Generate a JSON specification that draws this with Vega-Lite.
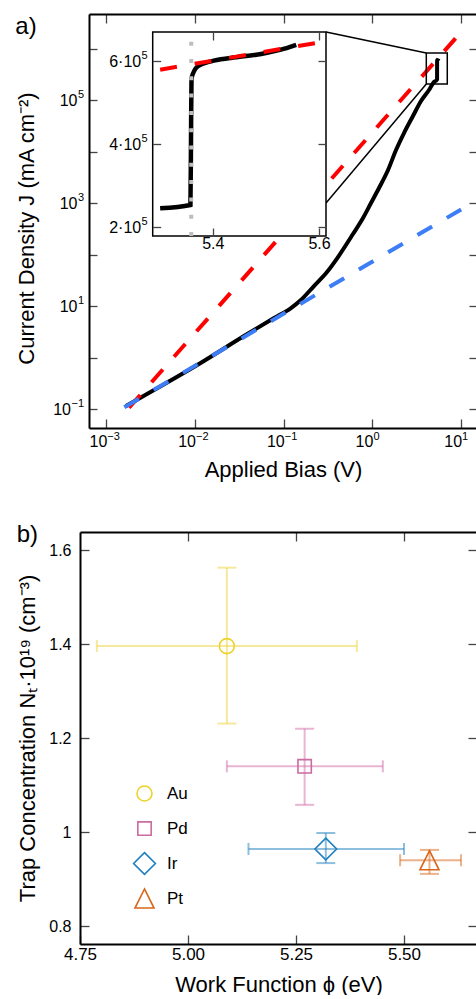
{
  "$schema": "https://vega.github.io/schema/vega-lite/v6.json",
  "padding": {"left": 15, "right": 0, "top": 13, "bottom": 0},
  "config": {
    "font": "Liberation Sans",
    "view": {"stroke": null},
    "axis": {"grid": false, "labelColor": "#000", "titleColor": "#000", "domainColor": "#000", "tickColor": "#444", "titleFontWeight": "normal", "labelOverlap": false, "labelFlush": false, "domainWidth": 2, "tickWidth": 1.3, "labelFont": "Liberation Sans", "titleFont": "Liberation Sans"},
    "title": {"fontWeight": "normal", "color": "#000", "font": "Liberation Sans"},
    "text": {"font": "Liberation Sans", "color": "#000"}
  },
  "datasets": {
    "black": [
      {"V": 0.001667, "J": 0.1143}, {"V": 0.003451, "J": 0.2339}, {"V": 0.01169, "J": 0.7925}, {"V": 0.03565, "J": 2.612},
      {"V": 0.0778, "J": 5.848}, {"V": 0.1208, "J": 9.141}, {"V": 0.1563, "J": 13.09}, {"V": 0.2193, "J": 24.43},
      {"V": 0.3076, "J": 45.71}, {"V": 0.4093, "J": 89.33}, {"V": 0.6039, "J": 250.0}, {"V": 0.7834, "J": 511.7},
      {"V": 0.9638, "J": 1000}, {"V": 1.186, "J": 1954}, {"V": 1.5, "J": 4375}, {"V": 1.845, "J": 10690},
      {"V": 2.27, "J": 22856}, {"V": 2.864, "J": 48865}, {"V": 3.532, "J": 95719}, {"V": 4.345, "J": 156315},
      {"V": 4.943, "J": 223872}, {"V": 5.30, "J": 244500}, {"V": 5.358, "J": 252500}, {"V": 5.36, "J": 559600},
      {"V": 5.372, "J": 587900}, {"V": 5.397, "J": 600000}, {"V": 5.434, "J": 608000}, {"V": 5.491, "J": 617700},
      {"V": 5.535, "J": 630500}, {"V": 5.557, "J": 640000}
    ],
    "red": [{"V": 0.001803, "J": 0.106}, {"V": 10.0, "J": 2090000}],
    "blue": [{"V": 0.001596, "J": 0.1079}, {"V": 10.0, "J": 750}],
    "connect": [
      {"V1": 0.300, "J1": 2090000, "V2": 4.05, "J2": 818000},
      {"V1": 0.300, "J1": 1000, "V2": 4.05, "J2": 205000}
    ],
    "zoomrect": [{"V1": 4.05, "V2": 6.98, "J1": 205000, "J2": 818000}],
    "xlabels": [{"V": 0.001, "e": "−3"}, {"V": 0.01, "e": "−2"}, {"V": 0.1, "e": "−1"}, {"V": 1, "e": "0"}, {"V": 10, "e": "1"}],
    "ylabels": [{"J": 0.1, "e": "−1"}, {"J": 10, "e": "1"}, {"J": 1000, "e": "3"}, {"J": 100000, "e": "5"}],
    "insetframe": [{"V1": 5.287, "V2": 5.613, "J1": 177500, "J2": 670900}],
    "insetblack": [
      {"V": 5.301, "J": 244500}, {"V": 5.358, "J": 252500}, {"V": 5.359, "J": 400000}, {"V": 5.36, "J": 559600},
      {"V": 5.372, "J": 587900}, {"V": 5.397, "J": 600000}, {"V": 5.434, "J": 608000}, {"V": 5.491, "J": 617700},
      {"V": 5.535, "J": 630500}, {"V": 5.557, "J": 640000}
    ],
    "insetred": [{"V": 5.301, "J": 579700}, {"V": 5.594, "J": 644300}],
    "insetgray": [{"V": 5.3595, "J1": 177500, "J2": 670900}],
    "insetylabels": [{"J": 200000, "m": "2·10"}, {"J": 400000, "m": "4·10"}, {"J": 600000, "m": "6·10"}],
    "metals": [
      {"metal": "Au", "wf": 5.090, "nt": 1.396, "wf_lo": 4.789, "wf_hi": 5.391, "nt_lo": 1.231, "nt_hi": 1.563},
      {"metal": "Pd", "wf": 5.270, "nt": 1.140, "wf_lo": 5.090, "wf_hi": 5.451, "nt_lo": 1.058, "nt_hi": 1.220},
      {"metal": "Ir", "wf": 5.319, "nt": 0.964, "wf_lo": 5.140, "wf_hi": 5.500, "nt_lo": 0.934, "nt_hi": 0.998},
      {"metal": "Pt", "wf": 5.559, "nt": 0.940, "wf_lo": 5.491, "wf_hi": 5.632, "nt_lo": 0.911, "nt_hi": 0.962}
    ]
  },
  "columns": 1,
  "align": "none",
  "spacing": 42,
  "resolve": {"legend": {"stroke": "independent", "shape": "independent", "color": "independent"}},
  "concat": [
    {
      "width": 397,
      "height": 414,
      "title": {"text": "a)", "anchor": "start", "frame": "bounds", "offset": -26, "fontSize": 24},
      "layer": [
        {
          "layer": [
            {
              "data": {"name": "black"},
              "mark": {"type": "line", "color": "#000", "strokeWidth": 4, "interpolate": "monotone"},
              "encoding": {
                "x": {"field": "V", "type": "quantitative", "scale": {"type": "log", "domain": [0.000638, 15.1], "range": [9, 397], "nice": false},
                  "axis": {"orient": "bottom", "values": [0.001, 0.01, 0.1, 1, 10], "tickSize": -9, "labels": false,
                    "title": "Applied Bias (V)", "titleFontSize": 22, "titlePadding": 31}},
                "y": {"field": "J", "type": "quantitative", "scale": {"type": "log", "domain": [0.0428, 4680000], "nice": false},
                  "axis": {"orient": "left", "offset": -9, "values": [0.1, 1, 10, 100, 1000, 10000, 100000, 1000000], "tickSize": -8, "labels": false,
                    "title": "Current Density J (mA cm⁻²)", "titleFontSize": 22, "titlePadding": 50, "titleY": 214}}
              }
            },
            {
              "data": {"name": "red"},
              "mark": {"type": "line", "color": "#ff0000", "strokeWidth": 4, "strokeDash": [17, 17]},
              "encoding": {
                "x": {"field": "V", "type": "quantitative", "scale": {"type": "log", "domain": [0.000638, 15.1], "range": [9, 397], "nice": false},
                  "axis": {"orient": "top", "values": [0.001, 0.01, 0.1, 1, 10], "tickSize": -9, "labels": false, "title": null}},
                "y": {"field": "J", "type": "quantitative", "scale": {"type": "log", "domain": [0.0428, 4680000], "nice": false},
                  "axis": {"orient": "right", "values": [0.1, 1, 10, 100, 1000, 10000, 100000, 1000000], "tickSize": -8, "labels": false, "domain": false, "title": null}}
              }
            },
            {
              "data": {"name": "blue"},
              "mark": {"type": "line", "color": "#3d7df5", "strokeWidth": 4, "strokeDash": [17, 17]},
              "encoding": {
                "x": {"field": "V", "type": "quantitative", "scale": {"type": "log", "domain": [0.000638, 15.1], "range": [9, 397], "nice": false}, "axis": null},
                "y": {"field": "J", "type": "quantitative", "scale": {"type": "log", "domain": [0.0428, 4680000], "nice": false}, "axis": null}
              }
            },
            {
              "data": {"name": "connect"},
              "mark": {"type": "rule", "color": "#000", "strokeWidth": 1.5},
              "encoding": {
                "x": {"field": "V1", "type": "quantitative", "scale": {"type": "log", "domain": [0.000638, 15.1], "range": [9, 397], "nice": false}, "axis": null},
                "x2": {"field": "V2"},
                "y": {"field": "J1", "type": "quantitative", "scale": {"type": "log", "domain": [0.0428, 4680000], "nice": false}, "axis": null},
                "y2": {"field": "J2"}
              }
            },
            {
              "data": {"name": "zoomrect"},
              "mark": {"type": "rect", "fillOpacity": 0, "stroke": "#000", "strokeWidth": 1.5},
              "encoding": {
                "x": {"field": "V1", "type": "quantitative", "scale": {"type": "log", "domain": [0.000638, 15.1], "range": [9, 397], "nice": false}, "axis": null},
                "x2": {"field": "V2"},
                "y": {"field": "J1", "type": "quantitative", "scale": {"type": "log", "domain": [0.0428, 4680000], "nice": false}, "axis": null},
                "y2": {"field": "J2"}
              }
            },
            {
              "data": {"name": "xlabels"},
              "mark": {"type": "text", "text": "10", "align": "right", "baseline": "top", "dx": 1, "dy": 6, "fontSize": 16},
              "encoding": {
                "x": {"field": "V", "type": "quantitative", "scale": {"type": "log", "domain": [0.000638, 15.1], "range": [9, 397], "nice": false}, "axis": null},
                "y": {"datum": 0.0428, "type": "quantitative", "scale": {"type": "log", "domain": [0.0428, 4680000], "nice": false}, "axis": null}
              }
            },
            {
              "data": {"name": "xlabels"},
              "mark": {"type": "text", "align": "left", "baseline": "top", "dx": 1, "dy": 3, "fontSize": 11},
              "encoding": {
                "text": {"field": "e"},
                "x": {"field": "V", "type": "quantitative", "scale": {"type": "log", "domain": [0.000638, 15.1], "range": [9, 397], "nice": false}, "axis": null},
                "y": {"datum": 0.0428, "type": "quantitative", "scale": {"type": "log", "domain": [0.0428, 4680000], "nice": false}, "axis": null}
              }
            },
            {
              "data": {"name": "ylabels"},
              "transform": [{"filter": "datum.J < 1"}],
              "mark": {"type": "text", "text": "10", "align": "right", "baseline": "middle", "dx": -18, "dy": 1, "fontSize": 16},
              "encoding": {
                "x": {"datum": 0.000638, "type": "quantitative", "scale": {"type": "log", "domain": [0.000638, 15.1], "range": [9, 397], "nice": false}, "axis": null},
                "y": {"field": "J", "type": "quantitative", "scale": {"type": "log", "domain": [0.0428, 4680000], "nice": false}, "axis": null}
              }
            },
            {
              "data": {"name": "ylabels"},
              "transform": [{"filter": "datum.J > 1"}],
              "mark": {"type": "text", "text": "10", "align": "right", "baseline": "middle", "dx": -11.5, "dy": 1, "fontSize": 16},
              "encoding": {
                "x": {"datum": 0.000638, "type": "quantitative", "scale": {"type": "log", "domain": [0.000638, 15.1], "range": [9, 397], "nice": false}, "axis": null},
                "y": {"field": "J", "type": "quantitative", "scale": {"type": "log", "domain": [0.0428, 4680000], "nice": false}, "axis": null}
              }
            },
            {
              "data": {"name": "ylabels"},
              "mark": {"type": "text", "align": "right", "baseline": "middle", "dx": -5, "dy": -5, "fontSize": 11},
              "encoding": {
                "text": {"field": "e"},
                "x": {"datum": 0.000638, "type": "quantitative", "scale": {"type": "log", "domain": [0.000638, 15.1], "range": [9, 397], "nice": false}, "axis": null},
                "y": {"field": "J", "type": "quantitative", "scale": {"type": "log", "domain": [0.0428, 4680000], "nice": false}, "axis": null}
              }
            }
          ],
          "resolve": {"axis": {"x": "independent", "y": "independent"}}
        },
        {
          "layer": [
            {
              "data": {"name": "insetframe"},
              "mark": {"type": "rect", "fill": "#fff", "stroke": "#000", "strokeWidth": 1.5},
              "encoding": {
                "x": {"field": "V1", "type": "quantitative", "scale": {"domain": [5.287, 5.613], "range": [72.7, 246], "nice": false, "zero": false},
                  "axis": {"orient": "bottom", "offset": -192, "zindex": 1, "values": [5.4, 5.6], "format": ".1f", "tickSize": -8, "domain": false, "labelPadding": 7, "labelFontSize": 16, "title": null}},
                "x2": {"field": "V2"},
                "y": {"field": "J1", "type": "quantitative", "scale": {"domain": [177500, 670900], "range": [222, 18], "nice": false, "zero": false},
                  "axis": {"orient": "left", "offset": -72.7, "zindex": 1, "values": [200000, 400000, 600000], "tickSize": -8, "domain": false, "labels": false, "title": null}},
                "y2": {"field": "J2"}
              }
            },
            {
              "data": {"name": "insetblack"},
              "mark": {"type": "line", "color": "#000", "strokeWidth": 4.5, "interpolate": "monotone"},
              "encoding": {
                "x": {"field": "V", "type": "quantitative", "scale": {"domain": [5.287, 5.613], "range": [72.7, 246], "nice": false, "zero": false},
                  "axis": {"orient": "top", "offset": -18, "zindex": 1, "values": [5.4, 5.6], "tickSize": -8, "domain": false, "labels": false, "title": null}},
                "y": {"field": "J", "type": "quantitative", "scale": {"domain": [177500, 670900], "range": [222, 18], "nice": false, "zero": false},
                  "axis": {"orient": "right", "offset": -151, "zindex": 1, "values": [200000, 400000, 600000], "tickSize": -8, "domain": false, "labels": false, "title": null}}
              }
            },
            {
              "data": {"name": "insetgray"},
              "mark": {"type": "rule", "color": "#bdbdbd", "strokeWidth": 4, "strokeDash": [4, 13.3]},
              "encoding": {
                "x": {"field": "V", "type": "quantitative", "scale": {"domain": [5.287, 5.613], "range": [72.7, 246], "nice": false, "zero": false}, "axis": null},
                "y": {"field": "J1", "type": "quantitative", "scale": {"domain": [177500, 670900], "range": [222, 18], "nice": false, "zero": false}, "axis": null},
                "y2": {"field": "J2"}
              }
            },
            {
              "data": {"name": "insetred"},
              "mark": {"type": "line", "color": "#ff0000", "strokeWidth": 4, "strokeDash": [17, 18]},
              "encoding": {
                "x": {"field": "V", "type": "quantitative", "scale": {"domain": [5.287, 5.613], "range": [72.7, 246], "nice": false, "zero": false}, "axis": null},
                "y": {"field": "J", "type": "quantitative", "scale": {"domain": [177500, 670900], "range": [222, 18], "nice": false, "zero": false}, "axis": null}
              }
            },
            {
              "data": {"name": "insetylabels"},
              "mark": {"type": "text", "align": "right", "baseline": "middle", "dx": -11.5, "dy": 1, "fontSize": 16},
              "encoding": {
                "text": {"field": "m"},
                "x": {"datum": 5.287, "type": "quantitative", "scale": {"domain": [5.287, 5.613], "range": [72.7, 246], "nice": false, "zero": false}, "axis": null},
                "y": {"field": "J", "type": "quantitative", "scale": {"domain": [177500, 670900], "range": [222, 18], "nice": false, "zero": false}, "axis": null}
              }
            },
            {
              "data": {"name": "insetylabels"},
              "mark": {"type": "text", "text": "5", "align": "right", "baseline": "middle", "dx": -5, "dy": -5, "fontSize": 11},
              "encoding": {
                "x": {"datum": 5.287, "type": "quantitative", "scale": {"domain": [5.287, 5.613], "range": [72.7, 246], "nice": false, "zero": false}, "axis": null},
                "y": {"field": "J", "type": "quantitative", "scale": {"domain": [177500, 670900], "range": [222, 18], "nice": false, "zero": false}, "axis": null}
              }
            }
          ],
          "resolve": {"axis": {"x": "independent", "y": "independent"}}
        }
      ],
      "resolve": {"scale": {"x": "independent", "y": "independent"}, "axis": {"x": "independent", "y": "independent"}}
    },
    {
      "width": 397,
      "height": 412,
      "title": {"text": "b)", "anchor": "start", "frame": "bounds", "offset": -16, "fontSize": 24},
      "data": {"name": "metals"},
      "layer": [
        {
          "mark": {"type": "rule", "strokeWidth": 2, "opacity": 0.5},
          "encoding": {
            "x": {"field": "wf_lo", "type": "quantitative", "scale": {"domain": [4.75, 5.669], "nice": false, "zero": false},
              "axis": {"orient": "bottom", "values": [4.75, 5.0, 5.25, 5.5], "format": ".2f", "tickSize": -9, "labelPadding": 11, "labelFontSize": 17,
                "title": "Work Function ϕ (eV)", "titleFontSize": 22, "titlePadding": 12}},
            "x2": {"field": "wf_hi"},
            "y": {"field": "nt", "type": "quantitative", "scale": {"domain": [0.7617, 1.6389], "nice": false, "zero": false},
              "axis": {"orient": "left", "values": [0.8, 1.0, 1.2, 1.4, 1.6], "tickSize": -9, "labelPadding": 18, "labelFontSize": 16,
                "labelExpr": "datum.value == 1 ? '1' : format(datum.value, '.1f')",
                "title": "Trap Concentration Nₜ·10¹⁹ (cm⁻³)", "titleFontSize": 22, "titlePadding": 9}},
            "color": {"field": "metal", "type": "nominal", "scale": {"domain": ["Pt", "Ir", "Pd", "Au"], "range": ["#d9661a", "#1f7fc0", "#d16ba5", "#f0d43a"]}, "legend": null}
          }
        },
        {
          "mark": {"type": "rule", "strokeWidth": 2, "opacity": 0.5},
          "encoding": {
            "x": {"field": "wf", "type": "quantitative", "scale": {"domain": [4.75, 5.669], "nice": false, "zero": false},
              "axis": {"orient": "top", "values": [5.0, 5.25, 5.5], "tickSize": -9, "labels": false, "title": null}},
            "y": {"field": "nt_lo", "type": "quantitative", "scale": {"domain": [0.7617, 1.6389], "nice": false, "zero": false},
              "axis": {"orient": "right", "values": [0.8, 1.0, 1.2, 1.4, 1.6], "tickSize": -9, "labels": false, "domain": false, "title": null}},
            "y2": {"field": "nt_hi"},
            "color": {"field": "metal", "type": "nominal", "scale": {"domain": ["Pt", "Ir", "Pd", "Au"], "range": ["#d9661a", "#1f7fc0", "#d16ba5", "#f0d43a"]}, "legend": null}
          }
        },
        {
          "mark": {"type": "tick", "orient": "horizontal", "size": 19, "thickness": 2, "opacity": 0.5},
          "encoding": {
            "x": {"field": "wf", "type": "quantitative", "scale": {"domain": [4.75, 5.669], "nice": false, "zero": false}, "axis": null},
            "y": {"field": "nt_lo", "type": "quantitative", "scale": {"domain": [0.7617, 1.6389], "nice": false, "zero": false}, "axis": null},
            "color": {"field": "metal", "type": "nominal", "scale": {"domain": ["Pt", "Ir", "Pd", "Au"], "range": ["#d9661a", "#1f7fc0", "#d16ba5", "#f0d43a"]}, "legend": null}
          }
        },
        {
          "mark": {"type": "tick", "orient": "horizontal", "size": 19, "thickness": 2, "opacity": 0.5},
          "encoding": {
            "x": {"field": "wf", "type": "quantitative", "scale": {"domain": [4.75, 5.669], "nice": false, "zero": false}, "axis": null},
            "y": {"field": "nt_hi", "type": "quantitative", "scale": {"domain": [0.7617, 1.6389], "nice": false, "zero": false}, "axis": null},
            "color": {"field": "metal", "type": "nominal", "scale": {"domain": ["Pt", "Ir", "Pd", "Au"], "range": ["#d9661a", "#1f7fc0", "#d16ba5", "#f0d43a"]}, "legend": null}
          }
        },
        {
          "mark": {"type": "tick", "orient": "vertical", "size": 12, "thickness": 2, "opacity": 0.5},
          "encoding": {
            "x": {"field": "wf_lo", "type": "quantitative", "scale": {"domain": [4.75, 5.669], "nice": false, "zero": false}, "axis": null},
            "y": {"field": "nt", "type": "quantitative", "scale": {"domain": [0.7617, 1.6389], "nice": false, "zero": false}, "axis": null},
            "color": {"field": "metal", "type": "nominal", "scale": {"domain": ["Pt", "Ir", "Pd", "Au"], "range": ["#d9661a", "#1f7fc0", "#d16ba5", "#f0d43a"]}, "legend": null}
          }
        },
        {
          "mark": {"type": "tick", "orient": "vertical", "size": 12, "thickness": 2, "opacity": 0.5},
          "encoding": {
            "x": {"field": "wf_hi", "type": "quantitative", "scale": {"domain": [4.75, 5.669], "nice": false, "zero": false}, "axis": null},
            "y": {"field": "nt", "type": "quantitative", "scale": {"domain": [0.7617, 1.6389], "nice": false, "zero": false}, "axis": null},
            "color": {"field": "metal", "type": "nominal", "scale": {"domain": ["Pt", "Ir", "Pd", "Au"], "range": ["#d9661a", "#1f7fc0", "#d16ba5", "#f0d43a"]}, "legend": null}
          }
        },
        {
          "mark": {"type": "point", "filled": false, "strokeWidth": 1.6, "size": 225, "opacity": 1},
          "encoding": {
            "x": {"field": "wf", "type": "quantitative", "scale": {"domain": [4.75, 5.669], "nice": false, "zero": false}, "axis": null},
            "y": {"field": "nt", "type": "quantitative", "scale": {"domain": [0.7617, 1.6389], "nice": false, "zero": false}, "axis": null},
            "stroke": {"field": "metal", "type": "nominal", "scale": {"domain": ["Au", "Pd", "Ir", "Pt"], "range": ["#ecd22a", "#cc6aa2", "#1f7fc0", "#d9661a"]},
              "legend": {"orient": "none", "legendX": 56, "legendY": 253, "title": null, "labelFontSize": 17, "symbolSize": 225, "symbolStrokeWidth": 1.6, "symbolFillColor": "transparent", "rowPadding": 6, "gridAlign": "all", "labelOffset": 14}},
            "shape": {"field": "metal", "type": "nominal", "scale": {"domain": ["Au", "Pd", "Ir", "Pt"], "range": ["circle", "M-0.89,-0.89H0.89V0.89H-0.89Z", "M0,-1.45L1.45,0L0,1.45L-1.45,0Z", "M0,-1.27L1.27,1.27L-1.27,1.27Z"]},
              "legend": {"orient": "none", "legendX": 56, "legendY": 253, "title": null, "labelFontSize": 17, "symbolSize": 225, "symbolStrokeWidth": 1.6, "symbolFillColor": "transparent", "rowPadding": 6, "gridAlign": "all", "labelOffset": 14}}
          }
        }
      ],
      "resolve": {"axis": {"x": "independent", "y": "independent"}}
    }
  ]
}
